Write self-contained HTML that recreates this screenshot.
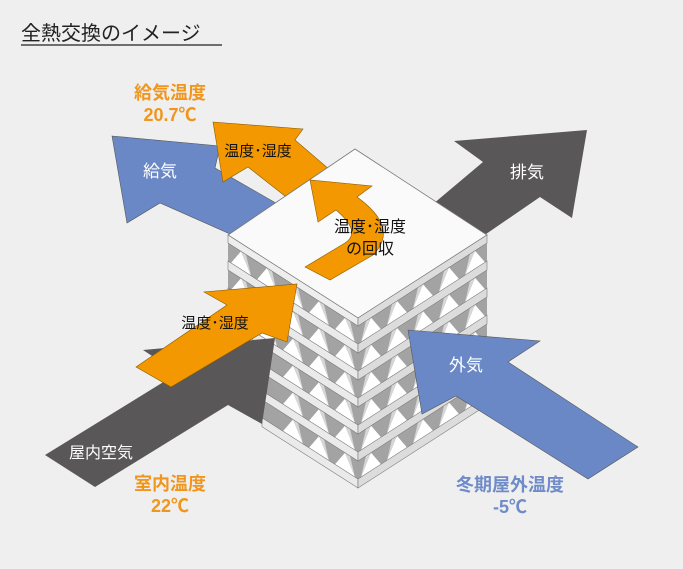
<!DOCTYPE html>
<html><head><meta charset="utf-8"><style>
body{margin:0;background:#efefef;}
svg{display:block}
text{font-family:"Liberation Sans","Noto Sans CJK JP",sans-serif}
</style></head><body>
<svg id="s" width="683" height="569" viewBox="0 0 683 569" xmlns="http://www.w3.org/2000/svg">
<rect width="683" height="569" fill="#efefef"/>
<text x="21" y="40" font-size="20" fill="#222">全熱交換のイメージ</text>
<line x1="21" y1="45" x2="222" y2="45" stroke="#222" stroke-width="1.3"/>
<polygon points="112,136 220,146 215,168 340,240 300,265 160,203 127,223" fill="#6b88c6" stroke="#555" stroke-width="0.6"/>
<polygon points="213,122 303,129 295,140 330,170 290,200 248,167 223,182" fill="#f39800" stroke="#8a5a00" stroke-width="0.6"/>
<polygon points="587,130 572,218 540,197 470,245 420,215 483,162 454,141" fill="#595757"/>
<g id="stack"></g>
<polygon points="355,149 487,235 358,318 228,235" fill="#fafafa" stroke="#777" stroke-width="0.8"/>
<polygon points="228,235 358,318 358,326 228,243" fill="#eee" stroke="#777" stroke-width="0.6"/>
<polygon points="358,318 487,235 487,243 358,326" fill="#dcdcdc" stroke="#777" stroke-width="0.6"/>
<path d="M305,267 L345,243 Q362,232 336,210 L318,222 L310,180 L372,186 L357,197 Q400,228 373,255 L330,280 Z" fill="#f39800" stroke="#8a5a00" stroke-width="0.6"/>
<text x="370" y="232" font-size="16" text-anchor="middle" fill="#111">温度･湿度</text>
<text x="370" y="254" font-size="16" text-anchor="middle" fill="#111">の回収</text>
<polygon points="45,455 178,373 143,350 275,338 262,424 228,405 95,487" fill="#595757"/>
<polygon points="297,284 287,342 262,333 171,387 136,367 227,305 204,292" fill="#f39800" stroke="#8a5a00" stroke-width="0.6"/>
<polygon points="408,330 540,341 508,362 638,447 588,479 456,396 422,414" fill="#6b88c6" stroke="#555" stroke-width="0.6"/>
<text x="170" y="99" font-size="18" font-weight="bold" text-anchor="middle" fill="#f0961e">給気温度</text>
<text x="170" y="121" font-size="18" font-weight="bold" text-anchor="middle" fill="#f0961e">20.7℃</text>
<text x="160" y="177" font-size="17" text-anchor="middle" fill="#fff">給気</text>
<text x="258" y="156" font-size="15" text-anchor="middle" fill="#111">温度･湿度</text>
<text x="527" y="178" font-size="17" text-anchor="middle" fill="#fff">排気</text>
<text x="215" y="328" font-size="15" text-anchor="middle" fill="#111">温度･湿度</text>
<text x="466" y="371" font-size="17" text-anchor="middle" fill="#fff">外気</text>
<text x="101" y="458" font-size="16" text-anchor="middle" fill="#fff">屋内空気</text>
<text x="170" y="490" font-size="18" font-weight="bold" text-anchor="middle" fill="#f0961e">室内温度</text>
<text x="170" y="512" font-size="18" font-weight="bold" text-anchor="middle" fill="#f0961e">22℃</text>
<text x="510" y="491" font-size="18" font-weight="bold" text-anchor="middle" fill="#6f8bc8">冬期屋外温度</text>
<text x="510" y="513" font-size="18" font-weight="bold" text-anchor="middle" fill="#6f8bc8">-5℃</text>
</svg>
<script>
(function(){
var g=document.getElementById('stack'),h='';
function P(pts,f,st){h+='<polygon points="'+pts.map(function(p){return p[0].toFixed(1)+','+p[1].toFixed(1)}).join(' ')+'" fill="'+f+'"'+(st?' stroke="#777" stroke-width="0.6"':'')+'/>';}
var sl=83/130, sr=83/129;
for(var k=5;k>=0;k--){
 var s=8+k*27;
 var L=function(x,y){return [x,235+s+(x-228)*sl+y];};
 var R=function(x,y){return [x,318+s-(x-358)*sr+y];};
 var xl0=(k>=3)?262:228;
 P([L(xl0,0),L(358,0),L(358,18),L(xl0,18)],'#a3a3a3');
 for(var i=0;i<5;i++){var a=228+26*i,b=a+26,m=a+13;if(a<xl0-5)continue;
  P([L(a+3,18),L(m,0),L(b-3,18)],'#fff');P([L(m,0),L(b-3,18),L(m+5,0)],'#d6d6d6');}
 P([R(358,0),R(487,0),R(487,18),R(358,18)],'#a3a3a3');
 for(var i=0;i<5;i++){var a=358+26*i,b=a+26,m=a+13;
  P([R(a+3,18),R(m,0),R(b-3,18)],'#fff');P([R(a+3,18),R(m,0),R(m-5,0)],'#d6d6d6');}
 P([L(xl0,18),L(358,18),L(358,27),L(xl0,27)],'#eaeaea',1);
 P([R(358,18),R(487,18),R(487,27),R(358,27)],'#dcdcdc',1);
}
g.innerHTML=h;
})();
</script>
</body></html>
